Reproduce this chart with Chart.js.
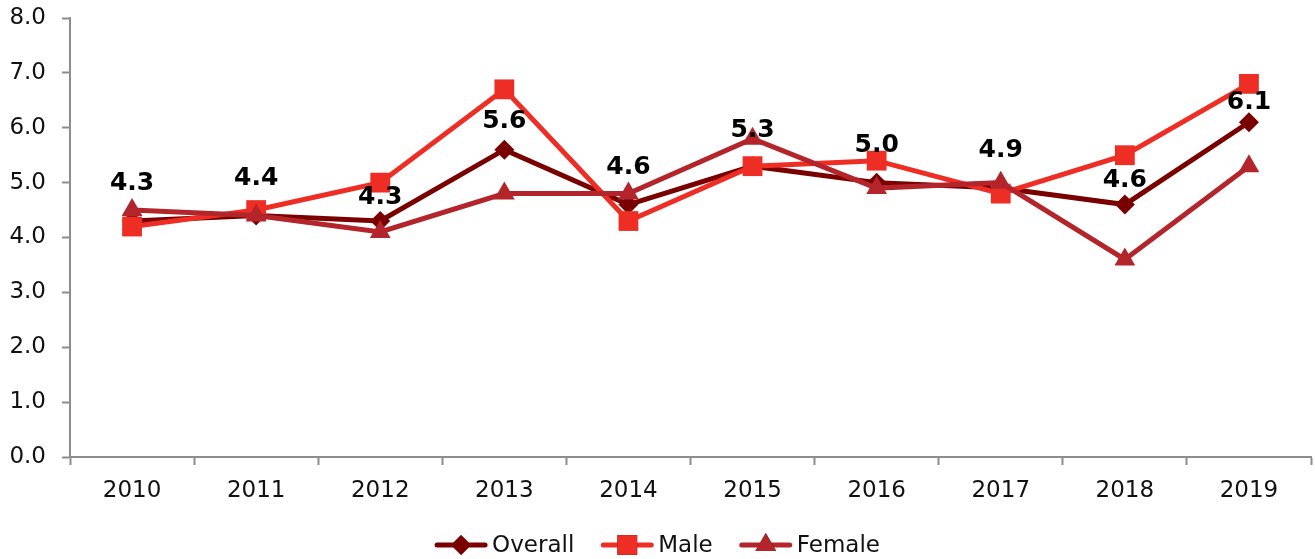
<!DOCTYPE html>
<html>
<head>
<meta charset="utf-8">
<script src="https://cdn.jsdelivr.net/npm/chart.js@4.4.1/dist/chart.umd.min.js"></script>
<style>
  html, body { margin: 0; padding: 0; background: #fff; }
  #wrap { width: 1315px; height: 559px; position: relative; }
</style>
</head>
<body>
<div id="wrap"><canvas id="c" width="1315" height="559"></canvas></div>
<script>
// Rates by year
const years = ['2010', '2011', '2012', '2013', '2014', '2015', '2016', '2017', '2018', '2019'];
const overall = [4.3, 4.4, 4.3, 5.6, 4.6, 5.3, 5.0, 4.9, 4.6, 6.1];
const male = [4.2, 4.5, 5.0, 6.7, 4.3, 5.3, 5.4, 4.8, 5.5, 6.8];
const female = [4.5, 4.4, 4.1, 4.8, 4.8, 5.8, 4.9, 5.0, 3.6, 5.3];
const seriesNames = ['Overall', 'Male', 'Female'];
const yTicks = [0, 1, 2, 3, 4, 5, 6, 7, 8];

const COLORS = ['#7a0000', '#ee2e24', '#b3252a'];
const STYLES = ['rectRot', 'rect', 'triangle'];
const RADII = [10, 14, 12];
const FONT = 'DejaVu Sans';

// Vertical lift (px) of each value label above its point
const labelLift = [38, 37, 24, 28, 37, 36, 37, 38, 24, 20];

const valueLabels = {
  id: 'valueLabels',
  afterDatasetsDraw(chart) {
    const ctx = chart.ctx;
    const meta = chart.getDatasetMeta(0);
    ctx.save();
    ctx.font = 'bold 25px "' + FONT + '"';
    ctx.fillStyle = '#000';
    ctx.textAlign = 'center';
    ctx.textBaseline = 'middle';
    meta.data.forEach((pt, i) => {
      ctx.fillText(overall[i].toFixed(1), pt.x, pt.y - labelLift[i]);
    });
    ctx.restore();
  }
};

// Legend with a line segment and marker for each series
const lineLegend = {
  id: 'lineLegend',
  afterDraw(chart) {
    const ctx = chart.ctx;
    const y = 545;
    const seg = 52, gapText = 5, gapItem = 27;
    ctx.save();
    ctx.font = '23px "' + FONT + '"';
    ctx.textBaseline = 'middle';
    const widths = seriesNames.map(n => seg + gapText + ctx.measureText(n).width);
    const total = widths.reduce((a, b) => a + b, 0) + gapItem * (seriesNames.length - 1);
    let x = chart.width / 2 - total / 2;
    seriesNames.forEach((name, i) => {
      ctx.strokeStyle = COLORS[i];
      ctx.lineWidth = 5;
      ctx.lineCap = 'round';
      ctx.beginPath();
      ctx.moveTo(x + 2, y);
      ctx.lineTo(x + seg - 2, y);
      ctx.stroke();
      Chart.helpers.drawPoint(ctx, {
        pointStyle: STYLES[i], radius: RADII[i], rotation: 0, borderWidth: 0
      }, x + seg / 2, y);
      ctx.fillStyle = COLORS[i];
      ctx.fill();
      ctx.fillStyle = '#111';
      ctx.fillText(name, x + seg + gapText, y + 1);
      x += widths[i] + gapItem;
    });
    ctx.restore();
  }
};

const makeSet = (label, data, i) => ({
  label, data,
  borderColor: COLORS[i],
  backgroundColor: COLORS[i],
  borderWidth: 5,
  pointStyle: STYLES[i],
  pointRadius: RADII[i],
  pointHoverRadius: RADII[i],
  pointBorderWidth: 0,
  pointBackgroundColor: COLORS[i],
  tension: 0,
  clip: false,
  order: 3 - i
});

new Chart(document.getElementById('c'), {
  type: 'line',
  data: {
    labels: years,
    datasets: [
      makeSet(seriesNames[0], overall, 0),
      makeSet(seriesNames[1], male, 1),
      makeSet(seriesNames[2], female, 2)
    ]
  },
  options: {
    responsive: false,
    animation: false,
    devicePixelRatio: 1,
    layout: { autoPadding: false, padding: { top: 18, right: 4, left: 0, bottom: 47 } },
    plugins: {
      legend: { display: false },
      tooltip: { enabled: false }
    },
    scales: {
      x: {
        offset: true,
        grid: {
          offset: true, drawOnChartArea: false, drawTicks: true,
          tickLength: 8, tickWidth: 2, tickColor: '#8c8c8c'
        },
        border: { color: '#8c8c8c', width: 2 },
        ticks: {
          color: '#111', font: { family: FONT, size: 23 }, padding: 12,
          maxRotation: 0
        },
        afterFit(scale) {
          scale.height = 55;
          scale.paddingLeft = 0;
          scale.paddingRight = 0;
        }
      },
      y: {
        min: 0, max: 8,
        afterBuildTicks(scale) { scale.ticks = yTicks.map(v => ({ value: v })); },
        grid: {
          drawOnChartArea: false, drawTicks: true,
          tickLength: 8, tickWidth: 2, tickColor: '#8c8c8c'
        },
        border: { color: '#8c8c8c', width: 2 },
        ticks: {
          color: '#111', font: { family: FONT, size: 23 }, padding: 16,
          callback: v => Number(v).toFixed(1)
        },
        afterFit(scale) {
          scale.width = 70;
          scale.paddingTop = 0;
          scale.paddingBottom = 0;
        }
      }
    }
  },
  plugins: [valueLabels, lineLegend]
});
</script>
</body>
</html>
